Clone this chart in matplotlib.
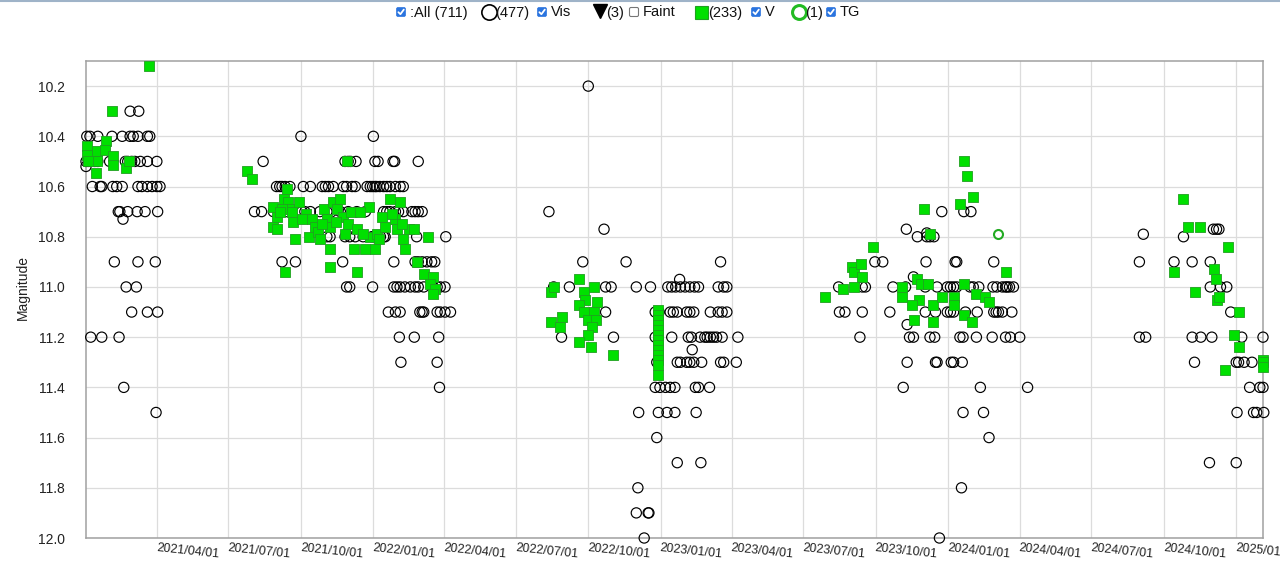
import numpy as np
import pandas as pd
import matplotlib
matplotlib.use("Agg")
import matplotlib.pyplot as plt
import matplotlib.dates as mdates
from matplotlib.patches import FancyBboxPatch, Rectangle

plt.rcParams['font.family'] = ['Liberation Sans', 'DejaVu Sans']

# days counted from t0, magnitude
t0 = "2021-01-01"

vis_obs = [
    # 2021 season
    (56, 10.3), (67, 10.3),
    (1, 10.4), (5, 10.4), (15, 10.4), (33, 10.4), (46, 10.4), (56, 10.4), (60, 10.4), (66, 10.4), (78, 10.4), (81, 10.4),
    (0, 10.5), (3, 10.5), (11, 10.5), (15, 10.5), (30, 10.5), (50, 10.5), (53, 10.5), (58, 10.5), (62, 10.5), (69, 10.5),
    (78, 10.5), (90, 10.5), (0, 10.52),
    (8, 10.6), (18, 10.6), (20, 10.6), (34, 10.6), (39, 10.6), (46, 10.6), (66, 10.6), (71, 10.6), (78, 10.6), (84, 10.6),
    (90, 10.6), (94, 10.6),
    (41, 10.7), (43, 10.7), (53, 10.7), (65, 10.7), (75, 10.7), (91, 10.7), (47, 10.73),
    (36, 10.9), (66, 10.9), (88, 10.9),
    (51, 11.0), (64, 11.0),
    (58, 11.1), (78, 11.1), (91, 11.1),
    (6, 11.2), (20, 11.2), (42, 11.2),
    (48, 11.4), (89, 11.5),
    # 2021/22 season
    (273, 10.4), (365, 10.4),
    (225, 10.5), (329, 10.5), (333, 10.5), (336, 10.5), (343, 10.5), (367, 10.5), (371, 10.5), (390, 10.5), (392, 10.5),
    (422, 10.5),
    (242, 10.6), (246, 10.6), (249, 10.6), (253, 10.6), (259, 10.6), (276, 10.6), (285, 10.6), (300, 10.6), (304, 10.6),
    (308, 10.6), (314, 10.6), (327, 10.6), (331, 10.6), (338, 10.6), (342, 10.6), (357, 10.6), (361, 10.6), (364, 10.6),
    (367, 10.6), (369, 10.6), (373, 10.6), (378, 10.6), (382, 10.6), (386, 10.6), (393, 10.6), (399, 10.6), (403, 10.6),
    (214, 10.7), (223, 10.7), (238, 10.7), (247, 10.7), (255, 10.7), (274, 10.7), (278, 10.7), (285, 10.7), (297, 10.7),
    (306, 10.7), (312, 10.7), (323, 10.7), (333, 10.7), (344, 10.7), (355, 10.7), (378, 10.7), (382, 10.7), (386, 10.7),
    (393, 10.7), (397, 10.7), (403, 10.7), (414, 10.7), (418, 10.7), (422, 10.7), (427, 10.7),
    (306, 10.8), (310, 10.8), (329, 10.8), (335, 10.8), (342, 10.8), (352, 10.8), (363, 10.8), (365, 10.8), (369, 10.8),
    (374, 10.8), (378, 10.8), (380, 10.8), (420, 10.8), (457, 10.8),
    (249, 10.9), (266, 10.9), (326, 10.9), (391, 10.9), (418, 10.9), (422, 10.9), (427, 10.9), (433, 10.9), (439, 10.9),
    (443, 10.9),
    (331, 11.0), (335, 11.0), (364, 11.0), (391, 11.0), (395, 11.0), (399, 11.0), (405, 11.0), (412, 11.0), (418, 11.0),
    (422, 11.0), (429, 11.0), (441, 11.0), (446, 11.0), (450, 11.0), (456, 11.0),
    (384, 11.1), (393, 11.1), (399, 11.1), (424, 11.1), (427, 11.1), (429, 11.1), (446, 11.1), (450, 11.1), (456, 11.1),
    (463, 11.1),
    (398, 11.2), (417, 11.2), (448, 11.2),
    (400, 11.3), (446, 11.3), (449, 11.4),
    # 2022/23 season
    (588, 10.7), (638, 10.2), (658, 10.77),
    (631, 10.9), (686, 10.9), (806, 10.9), (754, 10.97),
    (594, 11.0), (614, 11.0), (660, 11.0), (667, 11.0), (699, 11.0), (717, 11.0), (739, 11.0), (744, 11.0), (749, 11.0),
    (755, 11.0), (761, 11.0), (767, 11.0), (773, 11.0), (778, 11.0), (803, 11.0), (810, 11.0), (814, 11.0),
    (660, 11.1), (723, 11.1), (728, 11.1), (742, 11.1), (746, 11.1), (751, 11.1), (763, 11.1), (767, 11.1), (772, 11.1),
    (793, 11.1), (803, 11.1), (808, 11.1), (814, 11.1),
    (604, 11.2), (670, 11.2), (723, 11.2), (744, 11.2), (765, 11.2), (769, 11.2), (780, 11.2), (786, 11.2), (789, 11.2),
    (793, 11.2), (797, 11.2), (801, 11.2), (808, 11.2), (828, 11.2), (770, 11.25),
    (725, 11.3), (751, 11.3), (755, 11.3), (763, 11.3), (767, 11.3), (772, 11.3), (782, 11.3), (806, 11.3), (810, 11.3),
    (826, 11.3),
    (723, 11.4), (729, 11.4), (736, 11.4), (742, 11.4), (748, 11.4), (774, 11.4), (778, 11.4), (792, 11.4),
    (702, 11.5), (727, 11.5), (738, 11.5), (748, 11.5), (775, 11.5),
    (725, 11.6), (751, 11.7), (781, 11.7), (701, 11.8),
    (699, 11.9), (714, 11.9), (715, 11.9), (709, 12.0),
    # 2023/24 season
    (1087, 10.7), (1115, 10.7), (1124, 10.7), (1042, 10.77),
    (1056, 10.8), (1068, 10.8), (1072, 10.8), (1077, 10.8), (1068, 10.785),
    (1002, 10.9), (1012, 10.9), (1067, 10.9), (1104, 10.9), (1106, 10.9), (1153, 10.9), (1051, 10.96),
    (956, 11.0), (986, 11.0), (990, 11.0), (1025, 11.0), (1041, 11.0), (1066, 11.0), (1081, 11.0), (1094, 11.0),
    (1098, 11.0), (1102, 11.0), (1106, 11.0), (1123, 11.0), (1127, 11.0), (1134, 11.0), (1152, 11.0), (1157, 11.0),
    (1164, 11.0), (1168, 11.0), (1170, 11.0), (1173, 11.0), (1178, 11.0),
    (957, 11.1), (964, 11.1), (986, 11.1), (1021, 11.1), (1066, 11.1), (1079, 11.1), (1094, 11.1), (1098, 11.1),
    (1102, 11.1), (1117, 11.1), (1132, 11.1), (1153, 11.1), (1156, 11.1), (1159, 11.1), (1164, 11.1), (1176, 11.1),
    (1043, 11.15),
    (983, 11.2), (1046, 11.2), (1051, 11.2), (1072, 11.2), (1078, 11.2), (1110, 11.2), (1114, 11.2), (1131, 11.2),
    (1151, 11.2), (1168, 11.2), (1174, 11.2), (1186, 11.2),
    (1043, 11.3), (1079, 11.3), (1081, 11.3), (1099, 11.3), (1102, 11.3), (1113, 11.3),
    (1038, 11.4), (1136, 11.4), (1196, 11.4),
    (1114, 11.5), (1140, 11.5), (1147, 11.6), (1112, 11.8), (1084, 12.0),
    # 2024/25 season
    (1343, 10.79), (1394, 10.8), (1432, 10.77), (1436, 10.77), (1439, 10.77),
    (1338, 10.9), (1382, 10.9), (1405, 10.9), (1428, 10.9),
    (1428, 11.0), (1441, 11.0), (1449, 11.0), (1454, 11.1),
    (1338, 11.2), (1346, 11.2), (1405, 11.2), (1416, 11.2), (1430, 11.2), (1468, 11.2), (1495, 11.2),
    (1408, 11.3), (1461, 11.3), (1464, 11.3), (1471, 11.3), (1481, 11.3),
    (1478, 11.4), (1491, 11.4), (1495, 11.4),
    (1462, 11.5), (1483, 11.5), (1487, 11.5), (1496, 11.5),
    (1427, 11.7), (1461, 11.7),
]

v_obs = [
    # 2021 season
    (80, 10.12), (33, 10.30), (1, 10.44), (1, 10.475), (14, 10.46), (26, 10.42), (24, 10.455), (34, 10.48),
    (34, 10.515), (13, 10.545), (51, 10.525), (54, 10.5), (14, 10.5), (3, 10.5),
    # 2021/22 season
    (204, 10.54), (211, 10.57), (238, 10.68), (242, 10.72), (238, 10.76), (242, 10.77), (251, 10.65), (257, 10.66),
    (259, 10.69), (263, 10.74), (266, 10.81), (270, 10.66), (255, 10.61), (280, 10.71), (283, 10.80), (287, 10.73),
    (291, 10.76), (295, 10.78), (297, 10.81), (302, 10.69), (306, 10.73), (310, 10.76), (310, 10.85), (310, 10.92),
    (314, 10.66), (319, 10.69), (323, 10.65), (327, 10.72), (329, 10.79), (333, 10.75), (340, 10.85), (344, 10.77),
    (344, 10.94), (355, 10.85), (359, 10.68), (361, 10.80), (367, 10.85), (369, 10.79), (376, 10.72), (380, 10.76),
    (386, 10.65), (393, 10.73), (399, 10.66), (395, 10.77), (403, 10.81), (405, 10.85), (410, 10.77), (435, 10.80),
    (420, 10.90), (429, 10.95), (441, 10.96), (437, 10.99), (443, 11.01), (441, 11.03), (331, 10.50), (249, 10.69),
    (253, 10.94), (246, 10.70), (262, 10.70), (274, 10.73), (300, 10.75), (318, 10.74), (336, 10.70), (348, 10.70),
    (352, 10.79), (372, 10.81), (389, 10.71), (401, 10.75), (416, 10.77),
    # 2022/23 season
    (590, 11.02), (595, 11.0), (626, 10.97), (632, 11.02), (645, 11.0), (634, 11.05), (626, 11.07), (649, 11.06),
    (632, 11.1), (645, 11.1), (638, 11.13), (648, 11.13), (591, 11.14), (604, 11.12), (602, 11.16), (643, 11.16),
    (638, 11.19), (626, 11.22), (642, 11.24), (669, 11.27),
    (727, 11.09), (727, 11.11), (727, 11.13), (727, 11.15), (727, 11.17), (727, 11.19), (727, 11.21), (727, 11.23),
    (727, 11.25), (727, 11.27), (727, 11.29), (727, 11.31), (727, 11.35),
    # 2023/24 season
    (939, 11.04), (961, 11.01), (975, 11.0), (973, 10.92), (975, 10.94), (984, 10.91), (986, 10.96), (1000, 10.84),
    (1065, 10.69), (1110, 10.67), (1115, 10.50), (1119, 10.56), (1127, 10.64), (1072, 10.79), (1036, 11.0),
    (1036, 11.04), (1056, 10.97), (1060, 10.99), (1058, 11.05), (1049, 11.07), (1052, 11.13), (1070, 10.99),
    (1076, 11.07), (1076, 11.14), (1087, 11.04), (1102, 11.04), (1102, 11.07), (1115, 10.99), (1115, 11.11),
    (1125, 11.14), (1130, 11.03), (1142, 11.04), (1147, 11.06), (1169, 10.94),
    # 2024/25 season
    (1393, 10.65), (1400, 10.76), (1415, 10.76), (1450, 10.84), (1382, 10.94), (1433, 10.93), (1435, 10.97),
    (1408, 11.02), (1437, 11.05), (1439, 11.04), (1465, 11.10), (1458, 11.19), (1464, 11.24), (1447, 11.33),
    (1495, 11.29), (1495, 11.30), (1495, 11.32),
]

tg_obs = [(1159, 10.79)]

legend_counts = {"all": 711, "vis": 477, "faint": 3, "v": 233, "tg": 1}

x_ticks = ["2021-04-01", "2021-07-01", "2021-10-01", "2022-01-01", "2022-04-01", "2022-07-01", "2022-10-01",
           "2023-01-01", "2023-04-01", "2023-07-01", "2023-10-01", "2024-01-01", "2024-04-01", "2024-07-01",
           "2024-10-01", "2025-01-01"]
y_ticks = [10.2, 10.4, 10.6, 10.8, 11.0, 11.2, 11.4, 11.6, 11.8, 12.0]


def to_dates(obs):
    days, mags = zip(*obs)
    when = pd.Timestamp(t0) + pd.to_timedelta(np.array(days, dtype=float), unit="D")
    return mdates.date2num(when.to_pydatetime()), np.array(mags)


fig = plt.figure(figsize=(12.8, 5.67), dpi=100)
ax = fig.add_axes([86 / 1280, 1 - 538 / 567, (1263 - 86) / 1280, (538 - 61) / 567])

x, y = to_dates(vis_obs)
ax.scatter(x, y, s=54, facecolors="none", edgecolors="black", linewidths=0.85, zorder=3, clip_on=False)
x, y = to_dates(v_obs)
ax.scatter(x, y, s=56, marker="s", facecolors="#00e000", edgecolors="#20a020", linewidths=0.6, zorder=4,
           clip_on=False)
x, y = to_dates(tg_obs)
ax.scatter(x, y, s=42, facecolors="white", edgecolors="#22aa22", linewidths=1.5, zorder=5, clip_on=False)

ax.set_xlim(mdates.datestr2num("2021-01-01"), mdates.datestr2num("2025-02-04"))
ax.set_ylim(12.0, 10.1)
ax.set_yticks(y_ticks)
ax.set_yticklabels(["%.1f" % v for v in y_ticks])
ax.set_xticks([mdates.datestr2num(d) for d in x_ticks])
ax.set_xticklabels([d.replace("-", "/") for d in x_ticks])

ax.grid(True, color="#dcdcdc", linewidth=0.9)
ax.set_axisbelow(True)
for s in ax.spines.values():
    s.set_color("#a0a0a0")
    s.set_linewidth(1.1)
ax.tick_params(axis="y", length=0, pad=15, labelsize=10, colors="#222222")
ax.tick_params(axis="x", length=0, pad=3, labelsize=9, colors="#222222")
for lab in ax.get_xticklabels():
    lab.set_rotation(-6)
    lab.set_ha("left")
    lab.set_va("top")
    lab.set_rotation_mode("anchor")

ax.set_ylabel("Magnitude", fontsize=10, color="#222222")
ax.yaxis.set_label_coords(-0.048, 0.526)

# header row of checkboxes, drawn in pixel coordinates
hdr = fig.add_axes([0, 0, 1, 1], zorder=10)
hdr.set_xlim(0, 1280)
hdr.set_ylim(567, 0)
hdr.axis("off")
hdr.plot([0, 1280], [0.8, 0.8], color="#9fb3c8", lw=1.5)


def checkbox(xc, checked=True):
    if checked:
        hdr.add_patch(FancyBboxPatch((xc - 4.5, 7.5), 9, 9, boxstyle="round,pad=0,rounding_size=1.5",
                                     fc="#2a74df", ec="#2a74df", lw=0.5))
        hdr.plot([xc - 2.6, xc - 0.6, xc + 2.8], [12.2, 14.2, 9.6], color="white", lw=1.3, solid_capstyle="round")
    else:
        hdr.add_patch(FancyBboxPatch((xc - 4.5, 7.5), 9, 9, boxstyle="round,pad=0,rounding_size=1.5",
                                     fc="white", ec="#767676", lw=0.8))


tk = dict(fontsize=10.5, va="center", ha="left", color="#111111")
checkbox(401)
hdr.text(410, 12.5, ":All (%d)" % legend_counts["all"], **tk)
hdr.plot([489], [12], marker="o", ms=11, mfc="none", mec="black", mew=1.2)
hdr.text(495, 12.5, "(%d)" % legend_counts["vis"], **tk)
checkbox(542)
hdr.text(551, 12.5, "Vis", **tk)
hdr.plot([600], [11], marker="v", ms=10, color="black")
hdr.text(606, 12.5, "(%d)" % legend_counts["faint"], **tk)
checkbox(634, checked=False)
hdr.text(643, 12.5, "Faint", **tk)
hdr.add_patch(Rectangle((695, 5.5), 13, 13, fc="#00e000", ec="#20a020", lw=0.8))
hdr.text(708, 12.5, "(%d)" % legend_counts["v"], **tk)
checkbox(756)
hdr.text(765, 12.5, "V", **tk)
hdr.plot([799], [12], marker="o", ms=10, mfc="white", mec="#22bb22", mew=2.2)
hdr.text(805, 12.5, "(%d)" % legend_counts["tg"], **tk)
checkbox(831)
hdr.text(840, 12.5, "TG", **tk)

fig.savefig("out.png", dpi=100, facecolor="white")
